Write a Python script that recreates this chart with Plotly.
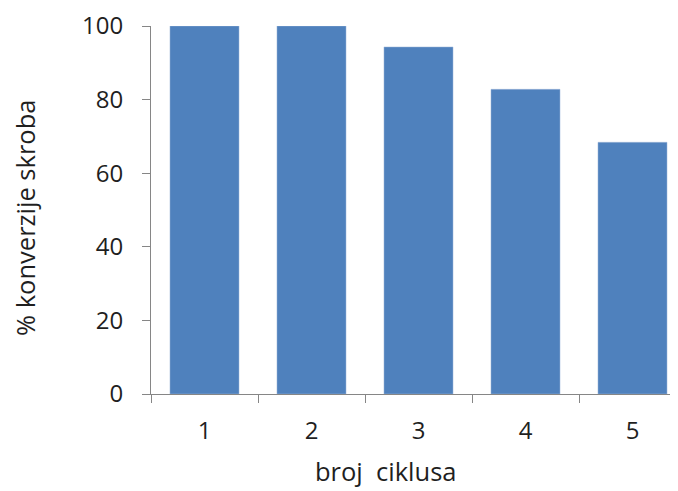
import plotly.graph_objects as go

cycles = ["1", "2", "3", "4", "5"]
conversion = [100, 100, 94.3, 82.8, 68.4]
y_ticks = [0, 20, 40, 60, 80, 100]
x_title = "broj  ciklusa"
y_title = "% konverzije skroba"

font_family = "Open Sans, Liberation Sans, sans-serif"
txt_color = "#1f1f1f"
axis_color = "#868686"

fig = go.Figure(
    go.Bar(
        x=cycles,
        y=conversion,
        marker=dict(color="#4F81BD", line=dict(color="#9fb7d9", width=0.5)),
        width=0.645,
    )
)

fig.update_layout(
    width=678,
    height=491,
    margin=dict(l=143, r=0, t=18, b=105, autoexpand=False),
    plot_bgcolor="white",
    paper_bgcolor="white",
    showlegend=False,
    font=dict(family=font_family, size=24, color=txt_color),
    annotations=[
        dict(text=x_title, xref="paper", yref="paper", x=0.4393, y=-0.2609,
             xanchor="center", yanchor="bottom", showarrow=False,
             font=dict(size=25.5, color=txt_color)),
        dict(text=y_title, xref="paper", yref="paper", x=-0.2355, y=0.4783,
             xanchor="center", yanchor="middle", showarrow=False, textangle=-90,
             font=dict(size=25.5, color=txt_color)),
    ],
)

fig.update_xaxes(
    type="category",
    range=[-0.5, 4.5],
    showline=True,
    linecolor=axis_color,
    linewidth=1,
    ticks="outside",
    tickson="boundaries",
    ticklen=8,
    tickcolor=axis_color,
    ticklabelstandoff=15,
    showgrid=False,
    automargin=False,
)

fig.update_yaxes(
    range=[0, 100],
    tickvals=y_ticks,
    showline=True,
    linecolor=axis_color,
    linewidth=1,
    ticks="outside",
    ticklen=8,
    tickcolor=axis_color,
    ticklabelstandoff=14,
    showgrid=False,
    zeroline=False,
    automargin=False,
)

fig.write_html("out.html")
